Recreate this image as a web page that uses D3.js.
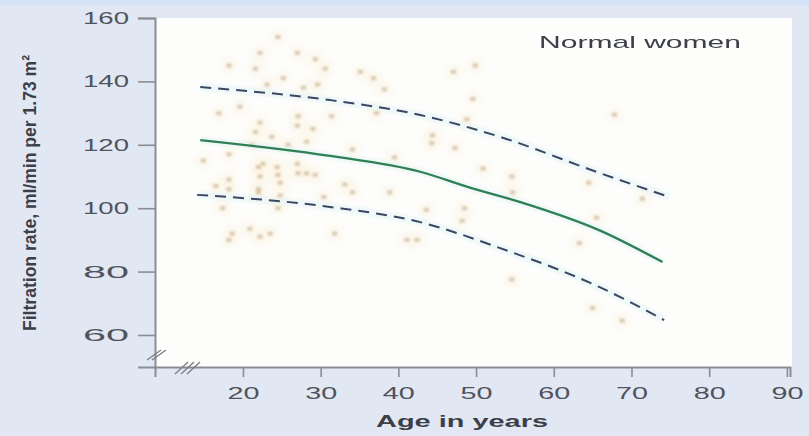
<!DOCTYPE html>
<html>
<head>
<meta charset="utf-8">
<script src="https://cdn.jsdelivr.net/npm/d3@7"></script>
<style>
  html, body { margin: 0; padding: 0; background: #e2e7f4; }
  svg { display: block; }
</style>
</head>
<body>
<svg id="chart" width="809" height="436"></svg>
<script>
// Glomerular filtration rate vs age, normal women
const xTicks = [20, 30, 40, 50, 60, 70, 80, 90];
const yTicks = [60, 80, 100, 120, 140, 160];

// individual measurements: age (years)
const pointAges = [
  24.5, 22.2, 27.0, 29.3, 18.2, 21.6, 30.6, 25.2, 23.1, 29.6, 27.8, 19.6, 16.9, 27.1,
  22.2, 27.0, 29.0, 23.7, 21.6, 21.2, 25.8, 28.2, 18.2, 14.9, 22.6, 22.0, 27.0, 24.4,
  24.5, 27.1, 28.2, 29.3, 18.2, 22.2, 24.8, 16.5, 18.2, 22.0, 22.0, 24.8, 30.4, 17.4,
  24.5, 20.9, 18.6, 22.2, 23.5, 18.2, 35.1, 36.8, 47.1, 49.9, 38.2, 49.6, 31.4, 37.2,
  48.8, 44.4, 44.3, 47.3, 34.1, 39.5, 50.9, 54.6, 33.1, 34.1, 38.9, 54.7, 43.6, 48.5,
  48.2, 31.8, 41.1, 42.4, 54.6, 67.8, 64.5, 71.4, 65.5, 63.3, 65.0, 68.8
];
// individual measurements: filtration rate (ml/min per 1.73 m²)
const pointRates = [
  154, 149, 149, 147, 145, 144, 144, 141, 139, 139, 138, 132, 130, 129,
  127, 126, 125, 122.5, 124, 120, 120, 121, 117, 115, 114, 113, 114, 113,
  110.5, 111, 111, 110.5, 109, 110, 108, 107, 106, 106, 105, 104, 103.5, 100,
  100, 93.5, 92, 91, 92, 90, 143, 141, 143, 145, 137.5, 134.5, 129, 130,
  128, 123, 120.5, 119, 118.5, 116, 112.5, 110, 107.5, 105, 105, 105, 99.5, 100,
  96, 92, 90, 90, 77.5, 129.5, 108, 103, 97, 89, 68.5, 64.5
];

// mean regression curve
const meanAges  = [14.5, 31.2, 42.8, 49.2, 55.6, 65.9, 74.0];
const meanRates = [121.5, 116.5, 111.5, 106.5, 102, 93, 83];
// upper limit (dashed)
const upperAges  = [14.5, 31.2, 42.8, 53.1, 65.9, 74.9];
const upperRates = [138.2, 134.1, 129.4, 122.5, 111.1, 103.5];
// lower limit (dashed)
const lowerAges  = [14.1, 31.2, 42.8, 53.1, 65.9, 74.2];
const lowerRates = [104.2, 100.4, 95.6, 87.4, 75.1, 64.7];

const svg = d3.select("#chart");
const W = 809, H = 436;
const m = { left: 155, right: 790, top: 18, bottom: 367 };

// page background and a pale strip at the very top
svg.append("rect").attr("width", W).attr("height", H).attr("fill", "#e2e7f4");
svg.append("rect").attr("width", W).attr("height", 5).attr("fill", "#d3e3f8");

const x = d3.scaleLinear().domain([8.68, 90.4]).range([m.left, m.right]);
const y = d3.scaleLinear().domain([49.9, 160]).range([m.bottom, m.top]);

// plotting area
svg.append("rect")
  .attr("x", m.left).attr("y", m.top)
  .attr("width", m.right - m.left + 2).attr("height", m.bottom - m.top)
  .attr("fill", "#fdfdfc");

const defs = svg.append("defs");
defs.append("filter").attr("id", "soft")
  .append("feGaussianBlur").attr("stdDeviation", 0.8);
defs.append("filter").attr("id", "haze")
  .attr("x", "-200%").attr("y", "-200%").attr("width", "500%").attr("height", "500%")
  .append("feGaussianBlur").attr("stdDeviation", 5);

const pts = pointAges.map((a, i) => ({ age: a, rate: pointRates[i] }));

// soft warm halo behind the measurements
svg.append("g").attr("filter", "url(#haze)")
  .selectAll("circle").data(pts).join("circle")
  .attr("cx", d => x(d.age)).attr("cy", d => y(d.rate))
  .attr("r", 7).attr("fill", "#fbf0d2").attr("opacity", 0.5);

// measurement markers
svg.append("g").attr("filter", "url(#soft)")
  .selectAll("rect").data(pts).join("rect")
  .attr("x", d => x(d.age) - 2.5).attr("y", d => y(d.rate) - 2)
  .attr("width", 5).attr("height", 4)
  .attr("fill", "#cdb597").attr("opacity", 0.7);

const line = d3.line()
  .x(d => x(d[0])).y(d => y(d[1]))
  .curve(d3.curveMonotoneX);

const zip = (a, b) => a.map((v, i) => [v, b[i]]);

// faint glow under the curves
[zip(upperAges, upperRates), zip(lowerAges, lowerRates), zip(meanAges, meanRates)].forEach(c => {
  svg.append("path").attr("d", line(c)).attr("fill", "none")
    .attr("stroke", "#d6f0f2").attr("stroke-width", 8).attr("opacity", 0.35)
    .attr("filter", "url(#soft)");
});

svg.append("path").attr("d", line(zip(upperAges, upperRates)))
  .attr("fill", "none").attr("stroke", "#3b4763").attr("stroke-width", 2)
  .attr("stroke-dasharray", "11,7");
svg.append("path").attr("d", line(zip(lowerAges, lowerRates)))
  .attr("fill", "none").attr("stroke", "#3b4763").attr("stroke-width", 2)
  .attr("stroke-dasharray", "11,7");
svg.append("path").attr("d", line(zip(meanAges, meanRates)))
  .attr("fill", "none").attr("stroke", "#2f7f57").attr("stroke-width", 2.2);

// axes
const axisColor = "#8a8d94";
const labelColor = "#50535c";

const yAxis = svg.append("g").attr("transform", `translate(${m.left},0)`)
  .call(d3.axisLeft(y).tickValues(yTicks).tickSize(17).tickPadding(9).tickFormat(d3.format("d")));
const xAxis = svg.append("g").attr("transform", `translate(0,${m.bottom})`)
  .call(d3.axisBottom(x).tickValues(xTicks).tickSize(10).tickPadding(8).tickFormat(d3.format("d")));

[yAxis, xAxis].forEach(g => {
  g.select(".domain").attr("stroke", axisColor).attr("stroke-width", 2);
  g.selectAll(".tick line").attr("stroke", axisColor).attr("stroke-width", 1.6);
  g.selectAll(".tick text")
    .attr("fill", labelColor)
    .attr("font-family", "Liberation Sans, Arial, sans-serif")
    .attr("font-size", 17);
});
yAxis.selectAll(".tick text").attr("textLength", 46).attr("lengthAdjust", "spacingAndGlyphs");
xAxis.selectAll(".tick text").attr("textLength", 32).attr("lengthAdjust", "spacingAndGlyphs")
  .attr("dy", "0.85em");

// axis break marks
const brk = svg.append("g").attr("stroke", "#7d8089").attr("stroke-width", 1.4);
[0, 5].forEach(o => {
  brk.append("line").attr("x1", m.left - 8 + o).attr("y1", 360)
    .attr("x2", m.left + 6 + o).attr("y2", 350);
});
[0, 6, 12].forEach(o => {
  brk.append("line").attr("x1", 175 + o).attr("y1", 374)
    .attr("x2", 188 + o).attr("y2", 362);
});

// axis titles
svg.append("text")
  .attr("x", 462).attr("y", 427)
  .attr("text-anchor", "middle")
  .attr("font-family", "Liberation Sans, Arial, sans-serif")
  .attr("font-weight", "bold").attr("font-size", 17)
  .attr("fill", "#3c3f48")
  .attr("textLength", 172).attr("lengthAdjust", "spacingAndGlyphs")
  .text("Age in years");

svg.append("g")
  .attr("transform", "translate(36,193) scale(1.45,1) rotate(-90)")
  .append("text")
  .attr("text-anchor", "middle")
  .attr("font-family", "Liberation Sans, Arial, sans-serif")
  .attr("font-weight", "bold").attr("font-size", 13)
  .attr("fill", "#3c3f48")
  .attr("textLength", 276).attr("lengthAdjust", "spacingAndGlyphs")
  .text("Filtration rate, ml/min per 1.73 m²");

// panel caption
svg.append("text")
  .attr("x", 640).attr("y", 48)
  .attr("text-anchor", "middle")
  .attr("font-family", "Liberation Sans, Arial, sans-serif")
  .attr("font-size", 17)
  .attr("fill", "#3c3f48")
  .attr("textLength", 202).attr("lengthAdjust", "spacingAndGlyphs")
  .text("Normal women");
</script>
</body>
</html>
